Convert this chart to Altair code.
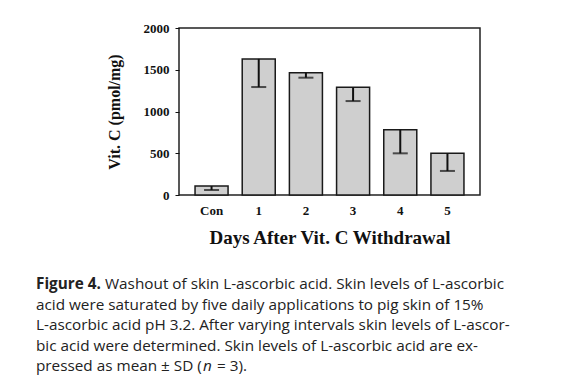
import altair as alt
import pandas as pd

categories = ["Con", "1", "2", "3", "4", "5"]
means = [108, 1630, 1465, 1290, 782, 500]
sds = [48, 337, 60, 165, 283, 212]
y_ticks = [0, 500, 1000, 1500, 2000]

caption_lead = "Figure 4."
caption_line1 = "Washout of skin L-ascorbic acid. Skin levels of L-ascorbic"
caption_lines = [
    "acid were saturated by five daily applications to pig skin of 15%",
    "L-ascorbic acid pH 3.2. After varying intervals skin levels of L-ascor-",
    "bic acid were determined. Skin levels of L-ascorbic acid are ex-",
]
caption_last = ["pressed as mean \u00b1 SD (", "n", "= 3)."]

df = pd.DataFrame({"day": categories, "mean": means, "sd": sds})
df["lower"] = df["mean"] - df["sd"]

SERIF = "Liberation Serif"
SANS = "Open Sans"

x = alt.X(
    "day:N",
    sort=categories,
    scale=alt.Scale(paddingInner=0.3, paddingOuter=0.34),
    axis=alt.Axis(
        title="Days After Vit. C Withdrawal",
        labelAngle=0, ticks=False, domain=False,
        labelFont=SERIF, labelFontWeight="bold", labelFontSize=13, labelColor="#111",
        labelPadding=9,
        titleFont=SERIF, titleFontWeight="bold", titleFontSize=19, titleColor="#111",
        titlePadding=11,
    ),
)
y = alt.Y(
    "mean:Q",
    scale=alt.Scale(domain=[0, 2000], nice=False),
    axis=alt.Axis(
        title="Vit. C (pmol/mg)", values=y_ticks, format="d", grid=False, domain=False,
        tickSize=4, tickColor="#111", labelPadding=6,
        labelFont=SERIF, labelFontWeight="bold", labelFontSize=13, labelColor="#111",
        titleFont=SERIF, titleFontWeight="bold", titleFontSize=16, titleColor="#111",
        titlePadding=21,
    ),
)

base = alt.Chart(df)
bars = base.mark_bar(fill="#cfcfcf", stroke="#1a1a1a", strokeWidth=1.5).encode(x=x, y=y)
stems = base.mark_rule(color="#111", strokeWidth=2).encode(x=x, y="mean:Q", y2="lower:Q")
caps = base.mark_tick(color="#111", size=15, thickness=2, orient="horizontal").encode(x=x, y="lower:Q")

def txt(s, xpos, ypos, weight="normal", style="normal", **kw):
    return alt.Chart(pd.DataFrame({"t": [s]})).mark_text(
        align="left", baseline="alphabetic", font=SANS, fontSize=15.3,
        fontWeight=weight, fontStyle=style, color="#222", **kw
    ).encode(x=alt.value(xpos), y=alt.value(ypos), text="t:N")

X0 = -143
cap_layers = [
    txt(caption_lead, X0, 261, weight="bold"),
    txt(caption_line1, X0 + 69, 261),
    txt("\n".join(caption_lines), X0, 281.5, lineBreak="\n", lineHeight=20.5),
    txt(caption_last[0], X0, 343),
    txt(caption_last[1], X0 + 167, 343, style="italic"),
    txt(caption_last[2], X0 + 181, 343),
]

chart = alt.layer(bars, stems, caps, *cap_layers).properties(
    width=301, height=167,
    autosize=alt.AutoSizeParams(type="none"),
    padding={"left": 171, "top": 20, "right": 82, "bottom": 186},
).configure(background="white").configure_view(stroke="#222", strokeWidth=1.5)

chart.save("out.html", embed_options={"renderer": "svg", "actions": False})
